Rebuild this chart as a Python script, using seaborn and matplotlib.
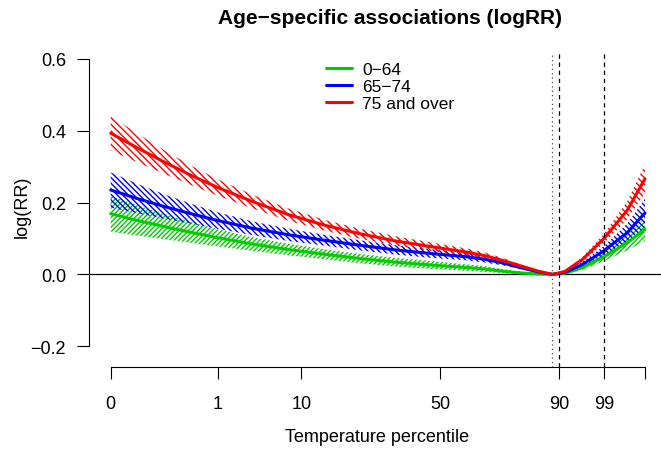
import numpy as np
import pandas as pd
import matplotlib
matplotlib.use("Agg")
import matplotlib.pyplot as plt
import seaborn as sns

# Temperature grid (deg C) on which the age-specific curves are evaluated
temperature = [-3.0, -1.5, 0.0, 1.5, 3.0, 5.0, 7.0, 9.0, 11.0, 13.0, 15.0,
               17.0, 18.0, 19.0, 20.0, 21.0, 21.8, 22.5, 23.5, 24.7, 26.0, 27.0]

# Central log relative risk estimates per age group
logrr_0_64 = [0.169, 0.150, 0.133, 0.117, 0.102, 0.084, 0.069, 0.056, 0.044,
              0.034, 0.026, 0.019, 0.015, 0.009, 0.004, 0.001, 0.0, 0.003,
              0.019, 0.049, 0.088, 0.125]
logrr_65_74 = [0.235, 0.211, 0.189, 0.169, 0.150, 0.128, 0.110, 0.095, 0.081,
               0.068, 0.058, 0.049, 0.042, 0.032, 0.019, 0.007, 0.0, 0.005,
               0.028, 0.066, 0.116, 0.171]
logrr_75_over = [0.393, 0.352, 0.313, 0.276, 0.242, 0.202, 0.166, 0.137, 0.113,
                 0.093, 0.077, 0.062, 0.052, 0.039, 0.024, 0.009, 0.0, 0.008,
                 0.042, 0.100, 0.178, 0.266]

# Half-widths of the 95% confidence intervals
ci_0_64 = [0.050, 0.042, 0.035, 0.029, 0.024, 0.019, 0.016, 0.014, 0.013,
           0.012, 0.011, 0.009, 0.008, 0.006, 0.004, 0.002, 0.0, 0.002,
           0.006, 0.012, 0.021, 0.032]
ci_65_74 = [0.049, 0.041, 0.034, 0.028, 0.023, 0.019, 0.017, 0.015, 0.014,
            0.013, 0.012, 0.010, 0.009, 0.007, 0.004, 0.002, 0.0, 0.002,
            0.007, 0.013, 0.025, 0.040]
ci_75_over = [0.048, 0.040, 0.033, 0.027, 0.023, 0.019, 0.017, 0.015, 0.014,
              0.013, 0.012, 0.010, 0.009, 0.007, 0.004, 0.002, 0.0, 0.002,
              0.007, 0.013, 0.025, 0.040]

age_groups = ["0\u221264", "65\u221274", "75 and over"]
group_colors = ["#00CD00", "#0000FF", "#FF0000"]
group_hatches = ["/" * 7, "\\" * 6, "\\" * 5]

# Percentile axis: temperatures of the labelled percentiles
pct_temps = [-3.0, 3.0, 7.7, 15.5, 22.2, 24.7, 27.0]
pct_labels = ["0", "1", "10", "50", "90", "99", ""]
mmt = 21.8          # minimum mortality temperature
p90_temp = 22.2
p99_temp = 24.7

sns.set_style("white")
plt.rcParams["font.family"] = ["Liberation Sans", "DejaVu Sans"]
plt.rcParams["hatch.linewidth"] = 1.0
plt.rcParams["text.color"] = "black"

df = pd.concat([
    pd.DataFrame({"temp": temperature, "logRR": vals, "age": grp})
    for vals, grp in zip([logrr_0_64, logrr_65_74, logrr_75_over], age_groups)
], ignore_index=True)

fig = plt.figure(figsize=(6.61, 4.52), dpi=100)
ax = fig.add_axes([89 / 661, 1 - 368.3 / 452, 1 - 89 / 661, (368.3 - 52.7) / 452])

# Hatched confidence bands
for vals, ci, col, hatch in zip([logrr_0_64, logrr_65_74, logrr_75_over],
                                [ci_0_64, ci_65_74, ci_75_over],
                                group_colors, group_hatches):
    v = np.asarray(vals)
    c = np.asarray(ci)
    ax.fill_between(temperature, v - c, v + c, facecolor="none",
                    edgecolor=col, linewidth=0, hatch=hatch)

sns.lineplot(data=df, x="temp", y="logRR", hue="age", hue_order=age_groups,
             palette=group_colors, linewidth=2.2, estimator=None,
             errorbar=None, sort=True, ax=ax)

ax.axhline(0, color="black", lw=0.9, zorder=1)
ax.axvline(mmt, color="0.3", lw=0.9, dashes=(1, 2.5))
ax.axvline(p90_temp, color="black", lw=0.9, dashes=(3.5, 3))
ax.axvline(p99_temp, color="black", lw=0.9, dashes=(3.5, 3))

ax.set_xlim(-4.22, 27.9)
ax.set_ylim(-0.2587, 0.62)

for s in ["top", "right"]:
    ax.spines[s].set_visible(False)
ax.spines["left"].set_bounds(-0.2, 0.6)
ax.spines["bottom"].set_bounds(pct_temps[0], pct_temps[-1])
for s in ["left", "bottom"]:
    ax.spines[s].set_color("black")
    ax.spines[s].set_linewidth(0.8)

ax.set_yticks([-0.2, 0.0, 0.2, 0.4, 0.6])
ax.set_yticklabels(["\u22120.2", "0.0", "0.2", "0.4", "0.6"])
ax.set_xticks(pct_temps)
ax.set_xticklabels(pct_labels)
ax.tick_params(axis="both", direction="out", length=8.6, width=0.8,
               color="black", labelsize=13, labelcolor="black",
               bottom=True, left=True)
ax.tick_params(axis="x", pad=11)
ax.tick_params(axis="y", pad=8)
ax.set_xlabel("")
ax.set_ylabel("")

handles, labels = ax.get_legend_handles_labels()
ax.legend(handles, labels, loc="upper left", frameon=False, fontsize=12.5,
          bbox_to_anchor=(326 / 661, 1 - 63 / 452), bbox_transform=fig.transFigure,
          handlelength=1.5, handletextpad=0.6, labelspacing=0.1, borderpad=0,
          borderaxespad=0)

fig.text(390 / 661, 1 - 24 / 452, "Age\u2212specific associations (logRR)",
         ha="center", va="baseline", fontsize=15, fontweight="bold", color="black")
fig.text(377 / 661, 1 - 438 / 452, "Temperature percentile",
         ha="center", va="center", fontsize=13, color="black")
fig.text(22 / 661, 1 - 207 / 452, "log(RR)", rotation=90,
         ha="center", va="center", fontsize=13, color="black")

fig.savefig("out.png", dpi=100)
